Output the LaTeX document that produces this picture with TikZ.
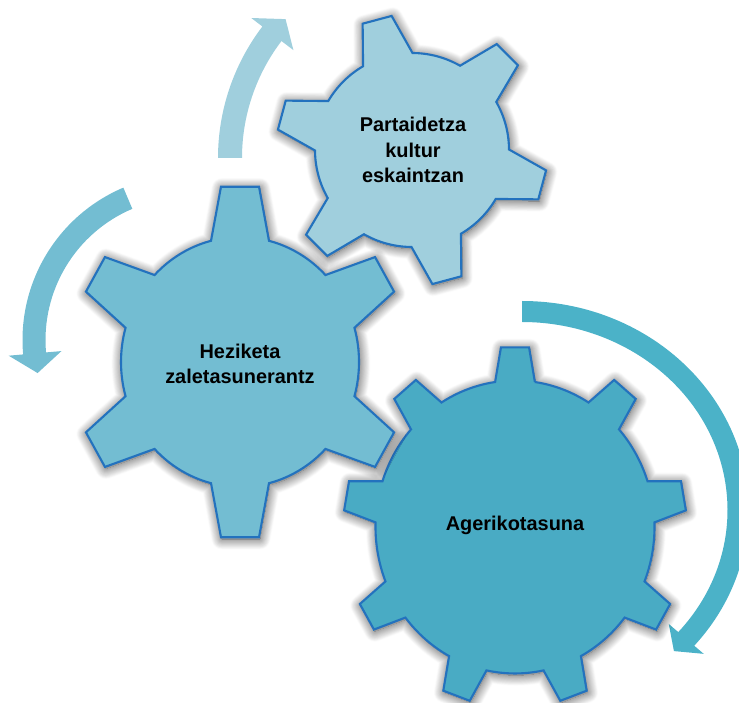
\documentclass[tikz,border=0pt]{standalone}
\usepackage{fontspec}
\setmainfont{Liberation Sans}
\usepackage{tikz}
\usetikzlibrary{
    shadows.blur
}
\definecolor{gearline}{HTML}{2372BE}
\definecolor{gearlight}{HTML}{A0CFDD}
\definecolor{gearmid}{HTML}{73BDD2}
\definecolor{geardark}{HTML}{49ABC4}
\definecolor{arrowdark}{HTML}{4BB2C8}
% #1 teeth, #2 root radius, #3 tip radius, #4 root half-angle, #5 tip half-angle, #6 first tooth
\newcommand{\gearpath}[6]{%
    ({#6-#4}:#2)
    \foreach \k [evaluate=\k as \a using #6+(\k-1)*360/#1] in {1,...,#1} {
        -- ({\a-#5}:#3) -- ({\a+#5}:#3) -- ({\a+#4}:#2)
        arc[start angle={\a+#4}, end angle={\a+360/#1-#4}, radius=#2]
    } -- cycle}
\tikzset{
    gear/.style={draw=gearline, line width=1.8pt, line join=miter,
        blur shadow={shadow xshift=0.8pt, shadow yshift=-1.5pt,
            shadow blur radius=9pt, shadow blur steps=14, shadow opacity=75}},
    gearlabel/.style={font=\bfseries\fontsize{17}{21.5}\selectfont, align=center}
}

\begin{document}
\begin{tikzpicture}[x=0.03cm, y=0.03cm]
    \useasboundingbox (0,0) rectangle (739,702);
    \clip (0,0) rectangle (739,702);
    % arrows
    \begin{scope}[shift={(435,544)}]
        \fill[gearlight]
        (180:217) arc[start angle=180, end angle=142.7, radius=217]
        -- (142.7:231) -- (137.1:204) -- (142.7:178)
        -- (142.7:193) arc[start angle=142.7, end angle=180, radius=193] -- cycle;
    \end{scope}
    \begin{scope}[shift={(188,362)}]
        \fill[gearmid]
        (113:165.5) arc[start angle=113, end angle=185, radius=165.5]
        -- (185:180) -- (192.4:154) -- (185:127)
        -- (185:142.5) arc[start angle=185, end angle=113, radius=142.5] -- cycle;
    \end{scope}
    \begin{scope}[shift={(522,192)}]
        \fill[arrowdark]
        (90:226.5 and 209) arc[start angle=90, end angle=-40.5, x radius=226.5, y radius=209]
        -- (-40.5:239 and 221.5) -- (-45.3:216 and 198.5) -- (-40.5:193 and 175.5)
        -- (-40.5:205.5 and 188) arc[start angle=-40.5, end angle=90, x radius=205.5, y radius=188] -- cycle;
    \end{scope}
    % gears
    \begin{scope}[shift={(515,175)}, yscale=1.05]
        \draw[gear, fill=geardark] \gearpath{9}{139.5}{171.6}{8.2}{4.7}{90};
    \end{scope}
    \begin{scope}[shift={(240,340)}, yscale=1.05]
        \draw[gear, fill=gearmid] \gearpath{6}{119}{168}{14.1}{6.5}{90};
    \end{scope}
    \begin{scope}[shift={(412,552)}]
        \draw[gear, fill=gearlight] \gearpath{6}{97}{135.6}{15.3}{6.35}{105};
    \end{scope}
    % labels
    \node[gearlabel] (partaidetza) at (413,552) {Partaidetza\\kultur\\eskaintzan};
    \node[gearlabel] (heziketa) at (240,338) {Heziketa\\zaletasunerantz};
    \node[gearlabel] (agerikotasuna) at (515,177) {Agerikotasuna};
\end{tikzpicture}
\end{document}
